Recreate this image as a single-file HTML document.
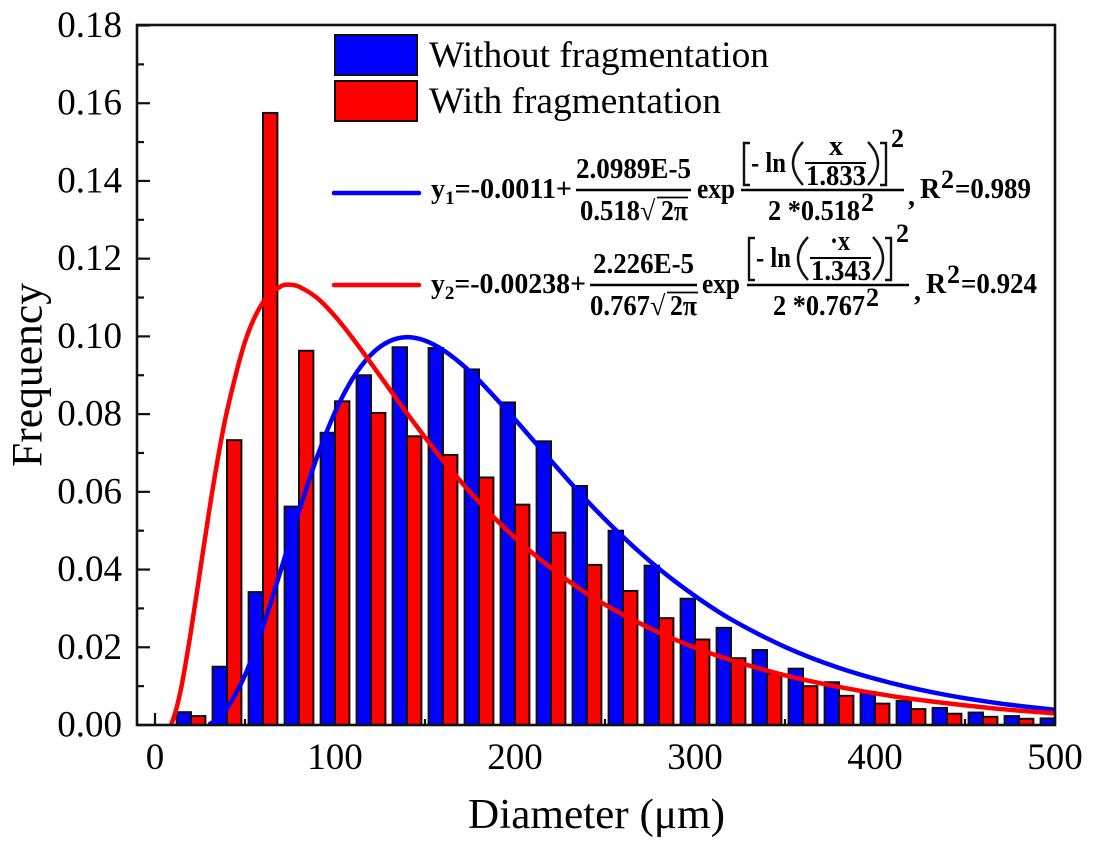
<!DOCTYPE html>
<html lang="en">
<head>
<meta charset="utf-8">
<title>Diameter frequency distribution</title>
<style>
html,body{margin:0;padding:0;background:#fff;}
svg{display:block;}
text{font-family:"Liberation Serif",serif;fill:#000;}
.eq text{font-weight:bold;font-size:28px;}
.tick{font-size:37px;}
.bar-line{stroke:#000;stroke-width:2.6;}
.brk{fill:none;stroke:#111;stroke-width:2.4;}
</style>
</head>
<body>
<svg id="chart" xmlns="http://www.w3.org/2000/svg" width="1093" height="851" viewBox="0 0 1093 851">
  <defs><clipPath id="plot-clip"><rect x="137" y="25" width="918.5" height="700"/></clipPath></defs>
  <rect x="137" y="25" width="918" height="700" fill="#fff"/>
  <g id="axes"></g>
  <g id="bars" clip-path="url(#plot-clip)"></g>
  <g id="curves" clip-path="url(#plot-clip)"></g>
  <rect x="137" y="25" width="918" height="700" fill="none" stroke="#111" stroke-width="2.6"/>
  <text x="468" y="828" font-size="42" textLength="257" lengthAdjust="spacingAndGlyphs">Diameter (μm)</text>
  <text transform="translate(41.5,467) rotate(-90)" font-size="43" textLength="184" lengthAdjust="spacingAndGlyphs">Frequency</text>

  <g>
    <rect x="335" y="35" width="82" height="40" fill="#0000ff" stroke="#111" stroke-width="2"/>
    <text x="429" y="67" font-size="37" textLength="340" lengthAdjust="spacingAndGlyphs">Without fragmentation</text>
    <rect x="335" y="81" width="82" height="40" fill="#ff0000" stroke="#111" stroke-width="2"/>
    <text x="429" y="113" font-size="37" textLength="292" lengthAdjust="spacingAndGlyphs">With fragmentation</text>
    <line x1="334" y1="193" x2="419" y2="193" stroke="#0000ff" stroke-width="4.5" stroke-linecap="round"/>
    <line x1="334" y1="285" x2="419" y2="285" stroke="#ff0000" stroke-width="4.5" stroke-linecap="round"/>
  </g>

  <g class="eq">
    <text x="431" y="198" textLength="141" lengthAdjust="spacingAndGlyphs">y<tspan font-size="19" dy="6" style="font-size:19px">1</tspan><tspan dy="-6">=-0.0011+</tspan></text>
    <text x="576" y="178" textLength="115" lengthAdjust="spacingAndGlyphs">2.0989E-5</text>
    <line class="bar-line" x1="576" y1="190" x2="691" y2="190"/>
    <text x="580" y="220" textLength="60" lengthAdjust="spacingAndGlyphs">0.518</text>
    <text x="640" y="220">√</text>
    <line x1="657" y1="197.5" x2="688" y2="197.5" stroke="#000" stroke-width="1.8"/>
    <text x="661" y="220" textLength="27" lengthAdjust="spacingAndGlyphs">2π</text>
    <text x="697" y="198" textLength="38" lengthAdjust="spacingAndGlyphs">exp</text>
    <line class="bar-line" x1="741" y1="190" x2="904" y2="190"/>
    <path class="brk" d="M750 143H744V185H750"/>
    <text x="751" y="172" textLength="35" lengthAdjust="spacingAndGlyphs">- ln</text>
    <path class="brk" d="M803 142Q783 163 803 185"/>
    <text x="829" y="155" textLength="14" lengthAdjust="spacingAndGlyphs">x</text>
    <line x1="805" y1="163" x2="866" y2="163" stroke="#000" stroke-width="2"/>
    <text x="806" y="185" textLength="60" lengthAdjust="spacingAndGlyphs">1.833</text>
    <path class="brk" d="M868 142Q888 163 868 185"/>
    <path class="brk" d="M880 143H886V185H880"/>
    <text x="891" y="147" style="font-size:26px">2</text>
    <text x="768" y="220" textLength="92" lengthAdjust="spacingAndGlyphs">2 *0.518</text>
    <text x="861" y="211" style="font-size:26px">2</text>
    <text x="908" y="205">,</text>
    <text x="920" y="198">R</text>
    <text x="941" y="188" style="font-size:26px">2</text>
    <text x="955" y="198" textLength="76" lengthAdjust="spacingAndGlyphs">=0.989</text>
  </g>

  <g class="eq">
    <text x="431" y="293" textLength="155" lengthAdjust="spacingAndGlyphs">y<tspan font-size="19" dy="6" style="font-size:19px">2</tspan><tspan dy="-6">=-0.00238+</tspan></text>
    <text x="593" y="273" textLength="101" lengthAdjust="spacingAndGlyphs">2.226E-5</text>
    <line class="bar-line" x1="590" y1="285" x2="697" y2="285"/>
    <text x="590" y="315" textLength="60" lengthAdjust="spacingAndGlyphs">0.767</text>
    <text x="650" y="315">√</text>
    <line x1="667" y1="292.5" x2="698" y2="292.5" stroke="#000" stroke-width="1.8"/>
    <text x="670" y="315" textLength="27" lengthAdjust="spacingAndGlyphs">2π</text>
    <text x="702" y="293" textLength="38" lengthAdjust="spacingAndGlyphs">exp</text>
    <line class="bar-line" x1="747" y1="285" x2="909" y2="285"/>
    <path class="brk" d="M755 238H749V280H755"/>
    <text x="756" y="267" textLength="35" lengthAdjust="spacingAndGlyphs">- ln</text>
    <path class="brk" d="M808 237Q788 258 808 280"/>
    <text x="830" y="250" textLength="20" lengthAdjust="spacingAndGlyphs">·x</text>
    <line x1="810" y1="258" x2="871" y2="258" stroke="#000" stroke-width="2"/>
    <text x="811" y="280" textLength="60" lengthAdjust="spacingAndGlyphs">1.343</text>
    <path class="brk" d="M873 237Q893 258 873 280"/>
    <path class="brk" d="M885 238H891V280H885"/>
    <text x="896" y="242" style="font-size:26px">2</text>
    <text x="773" y="315" textLength="92" lengthAdjust="spacingAndGlyphs">2 *0.767</text>
    <text x="866" y="306" style="font-size:26px">2</text>
    <text x="914" y="300">,</text>
    <text x="926" y="293">R</text>
    <text x="947" y="283" style="font-size:26px">2</text>
    <text x="961" y="293" textLength="76" lengthAdjust="spacingAndGlyphs">=0.924</text>
  </g>
</svg>
<script>
var binCenters = [20,40,60,80,100,120,140,160,180,200,220,240,260,280,300,320,340,360,380,400,420,440,460,480,500];
var withoutFragmentation = [0.0033,0.0150,0.0342,0.0562,0.0752,0.0900,0.0972,0.0970,0.0915,0.0830,0.0730,0.0615,0.0500,0.0410,0.0325,0.0250,0.0193,0.0145,0.0110,0.0085,0.0062,0.0044,0.0032,0.0023,0.0017];
var withFragmentation = [0.0023,0.0733,0.1575,0.0963,0.0833,0.0803,0.0743,0.0695,0.0637,0.0567,0.0495,0.0412,0.0345,0.0275,0.0220,0.0172,0.0133,0.0100,0.0075,0.0055,0.0041,0.0029,0.0021,0.0016,0.0012];
var curve1X = [30,35,40,50,60,70,80,90,100,110,120,130,140,150,160,170,180,200,220,240,260,280,300,320,350,380,410,440,470,500];
var curve1Y = [0.0001,0.0017,0.0043,0.0128,0.0253,0.0400,0.0550,0.0689,0.0805,0.0893,0.0953,0.0987,0.0998,0.0989,0.0965,0.0930,0.0887,0.0786,0.0680,0.0577,0.0484,0.0402,0.0332,0.0272,0.0201,0.0147,0.0107,0.0077,0.0055,0.0039];
var curve2X = [9,10,12,15,20,25,30,35,40,50,60,70,75,80,90,100,110,120,130,140,160,180,200,220,240,260,280,300,320,350,380,410,440,470,500];
var curve2Y = [0.0002,0.0014,0.0044,0.0106,0.0242,0.0395,0.0548,0.0688,0.0808,0.0986,0.1088,0.1129,0.1133,0.1128,0.1099,0.1052,0.0994,0.0931,0.0866,0.0802,0.0681,0.0574,0.0482,0.0404,0.0338,0.0284,0.0238,0.0199,0.0167,0.0128,0.0098,0.0074,0.0056,0.0041,0.0030];
var xTickValues = [0,100,200,300,400,500];
var xMinorValues = [50,150,250,350,450];
var yTickValues = [0,0.02,0.04,0.06,0.08,0.10,0.12,0.14,0.16,0.18];
var yMinorValues = [0.01,0.03,0.05,0.07,0.09,0.11,0.13,0.15,0.17];

var NS = 'http://www.w3.org/2000/svg';
function sx(v){ return 155 + v * 1.8; }
function sy(v){ return 725 - v * (699.5 / 0.18); }
function make(tag, parent){ var e = document.createElementNS(NS, tag); parent.appendChild(e); return e; }

var barsG = document.getElementById('bars');
var curvesG = document.getElementById('curves');
var axesG = document.getElementById('axes');
var barW = 8;

binCenters.forEach(function(c, i){
  var b = make('rect', barsG);
  
  
  b.setAttribute('x', sx(c - barW));
  b.setAttribute('y', sy(withoutFragmentation[i]));
  b.setAttribute('width', sx(c) - sx(c - barW));
  b.setAttribute('height', sy(0) - sy(withoutFragmentation[i]));
  b.setAttribute('fill', '#0000ff');
  b.setAttribute('stroke', '#111');
  b.setAttribute('stroke-width', '2');
});
binCenters.forEach(function(c, i){
  var b = make('rect', barsG);
  
  
  b.setAttribute('x', sx(c));
  b.setAttribute('y', sy(withFragmentation[i]));
  b.setAttribute('width', sx(c + barW) - sx(c));
  b.setAttribute('height', sy(0) - sy(withFragmentation[i]));
  b.setAttribute('fill', '#ff0000');
  b.setAttribute('stroke', '#111');
  b.setAttribute('stroke-width', '2');
});

function smoothPath(xs, ys){
  var n = xs.length;
  function slope(i){
    var a = Math.max(0, i - 1), b = Math.min(n - 1, i + 1);
    return (sy(ys[b]) - sy(ys[a])) / (sx(xs[b]) - sx(xs[a]));
  }
  var d = 'M' + sx(xs[0]) + ' ' + sy(ys[0]);
  for (var i = 0; i < n - 1; i++){
    var x0 = sx(xs[i]), y0 = sy(ys[i]), x1 = sx(xs[i + 1]), y1 = sy(ys[i + 1]);
    var h = (x1 - x0) / 3;
    d += 'C' + (x0 + h) + ' ' + (y0 + slope(i) * h) + ' ' + (x1 - h) + ' ' + (y1 - slope(i + 1) * h) + ' ' + x1 + ' ' + y1;
  }
  return d;
}
var c1 = make('path', curvesG);


c1.setAttribute('d', smoothPath(curve1X, curve1Y));
c1.setAttribute('fill', 'none');
c1.setAttribute('stroke', '#0000ff');
c1.setAttribute('stroke-width', '4.5');
var c2 = make('path', curvesG);


c2.setAttribute('d', smoothPath(curve2X, curve2Y));
c2.setAttribute('fill', 'none');
c2.setAttribute('stroke', '#ff0000');
c2.setAttribute('stroke-width', '4.5');

function tickLine(x1, y1, x2, y2){
  var l = make('line', axesG);
  
  
  l.setAttribute('x1', x1); l.setAttribute('y1', y1);
  l.setAttribute('x2', x2); l.setAttribute('y2', y2);
  l.setAttribute('stroke', '#111');
  l.setAttribute('stroke-width', '2.2');
}
xTickValues.forEach(function(v){
  tickLine(sx(v), 725, sx(v), 713);
  var t = make('text', axesG);
  
  
  t.setAttribute('class', 'tick');
  t.setAttribute('x', sx(v));
  t.setAttribute('y', 769);
  t.setAttribute('text-anchor', 'middle');
  t.textContent = String(v);
});
xMinorValues.forEach(function(v){
  tickLine(sx(v), 725, sx(v), 719);
});
yTickValues.forEach(function(v){
  tickLine(137, sy(v), 150, sy(v));
  var t = make('text', axesG);
  
  
  t.setAttribute('class', 'tick');
  t.setAttribute('x', 122);
  t.setAttribute('y', sy(v) + 11.5);
  t.setAttribute('text-anchor', 'end');
  t.textContent = v.toFixed(2);
});
yMinorValues.forEach(function(v){
  tickLine(137, sy(v), 144, sy(v));
});
</script>
</body>
</html>
